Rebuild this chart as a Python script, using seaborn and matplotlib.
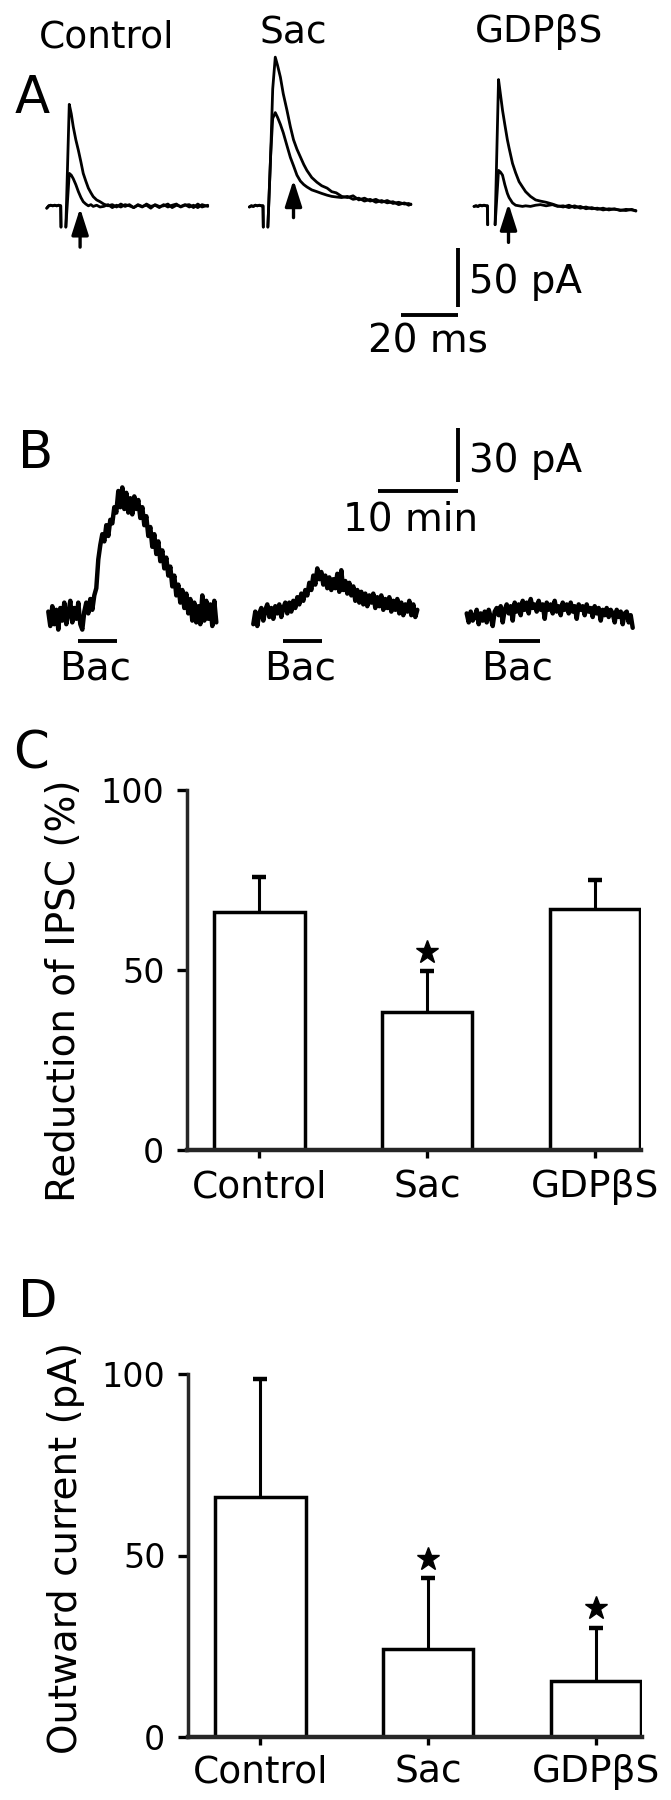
import numpy as np
import pandas as pd
import seaborn as sns
import matplotlib.pyplot as plt

nan = np.nan
GROUPS = ["Control", "Sac", "GDPβS"]

# ---- A: evoked IPSCs, time in ms after the stimulus, current in pA ----
CTRL_A_T = [-5.0, -4.3, -3.6, -2.9, -2.2, -1.5, -0.8, -0.1, 0.0, nan,
            1.7, 2.9, 3.6, 4.3, 5.2, 6.1, 7.0, 7.8, 8.7, 9.6, 10.5, 11.3, 12.5, 13.7,
            15.0, 16.5, 18.0, 19.5, 21.0, 22.5, 24.0, 25.5, 27.0, 28.5, 30.0, 31.5, 33.0,
            34.5, 36.0, 37.5, 39.0, 40.5, 42.0, 43.5, 45.0, 46.5, 48.0, 49.5, 51.5]
CTRL_A_BIG = [-1.0, 1.0, 1.5, 1.0, 1.5, 1.0, 1.5, 1.0, -17.0, nan,
              -17.0, 87.0, 79.0, 68.0, 57.0, 48.0, 38.0, 28.5, 22.0, 16.0, 12.0, 8.8, 6.0, 4.5,
              2.5, 1.0, 2.0, 0.0, 2.5, 0.5, 2.0, -0.5, 1.5, 0.0, 2.5, 0.5, 1.5,
              -0.5, 2.0, 0.0, 1.5, 2.5, 0.0, 1.5, 2.0, -0.5, 2.5, 0.0, 1.5]
CTRL_A_SMALL = [-1.0, 1.0, 1.5, 1.0, 1.5, 1.0, 1.5, 1.0, -17.0, nan,
                -17.0, 28.5, 27.0, 24.0, 19.0, 13.0, 8.0, 4.5, 2.5, 1.0, 2.0, 0.5, 1.5, 0.0,
                0.5, 2.0, -0.5, 1.5, 0.0, 2.0, 1.0, -0.5, 2.0, 0.5, 1.5, -1.0, 2.0,
                0.5, 1.0, 2.5, -0.5, 1.5, 0.5, 2.0, 0.0, 1.5, -0.5, 2.0, 0.5]

SAC_A_T = [-4.9, -4.2, -3.5, -2.8, -2.1, -1.4, -0.7, -0.1, 0.0, nan,
           1.6, 2.6, 3.3, 4.2, 5.0, 6.0, 7.0, 8.3, 9.5, 10.6, 11.8, 13.0, 14.2, 15.3,
           17.0, 18.8, 20.5, 22.4, 24.0, 25.6,
           27.5, 29.5, 31.5, 33.5, 35.5, 37.5, 39.5, 41.5, 43.5, 45.5, 47.5, 49.5, 51.0, 51.8]
SAC_A_BIG = [0.0, 1.0, 0.5, 1.5, 1.0, 1.5, 1.0, 1.0, -17.0, nan,
             -17.0, 45.0, 100.0, 127.0, 120.0, 110.0, 96.0, 82.0, 68.0, 57.0, 49.0, 42.5, 36.0, 31.0,
             25.0, 21.0, 18.0, 16.0, 13.0, 12.0,
             9.0, 8.0, 9.5, 6.0, 7.5, 5.0, 6.5, 4.0, 5.5, 3.0, 4.0, 2.5, 3.0, 2.0]
SAC_A_SMALL = [0.0, 1.0, 0.5, 1.5, 1.0, 1.5, 1.0, 1.0, -17.0, nan,
               -17.0, 45.0, 75.0, 80.0, 76.0, 70.0, 63.0, 52.0, 42.0, 35.0, 27.0, 22.0, 19.0, 17.0,
               14.5, 13.0, 11.5, 10.0, 9.0, 8.5,
               8.0, 9.0, 6.5, 7.5, 5.0, 6.5, 4.0, 5.5, 3.5, 4.5, 2.0, 3.5, 1.5, 2.5]

GDP_A_T = [-4.8, -4.1, -3.4, -2.7, -2.0, -1.3, -0.6, -0.1, 0.0, nan,
           2.6, 3.8, 4.5, 5.2, 6.0, 6.9, 7.5, 8.7, 9.8, 11.0, 12.2, 13.3,
           15.0, 16.8, 18.5, 20.5, 22.7,
           24.5, 26.5, 28.5, 30.5, 32.5, 34.5, 36.5, 38.5, 40.5, 42.5, 44.5, 46.5, 48.5, 50.5, 52.0]
GDP_A_BIG = [0.5, 1.0, 0.5, 1.5, 1.0, 1.5, 1.0, 1.0, -15.0, nan,
             -15.0, 108.0, 95.0, 82.0, 70.0, 57.0, 50.0, 37.0, 29.0, 21.5, 17.0, 13.0,
             9.0, 6.0, 5.0, 4.0, 2.5,
             1.0, 0.0, 1.5, -0.5, 0.5, -1.5, -0.5, -2.0, -1.0, -2.5, -1.5, -3.0, -2.0, -2.5, -3.0]
GDP_A_SMALL = [0.5, 1.0, 0.5, 1.5, 1.0, 1.5, 1.0, 1.0, -15.0, nan,
               -15.0, 31.0, 29.5, 27.0, 19.0, 11.5, 8.0, 3.5, 1.5, 1.0, 0.5, 1.0,
               0.5, 1.5, 2.0, 1.0, 2.0,
               0.5, 1.0, -0.5, 1.0, -1.0, 0.0, -1.5, -1.0, -2.5, -1.5, -2.0, -2.5, -3.0, -2.0, -3.5]

# arrows under the traces (ms, pA)
ARROW_T = [6.7, 10.6, 7.3]
ARROW_TAIL = [-34.0, -9.0, -30.0]
ARROW_HEAD = [-1.0, 23.0, 3.0]

# ---- B: baclofen outward currents, sampled every 0.25 min, pA ----
B_DT_MIN = 0.25
CTRL_B = [3, -5, 6, -4, 4, -7, 5, -2, 8, -4,
          2, 9, -3, 5, -1, 8, -4, -7, 3, 8,
          2, 10, 4, 12, 16, 32, 40, 46, 42, 51,
          45, 54, 52, 61, 58, 70, 61, 72, 60, 69,
          58, 66, 57, 67, 60, 65, 55, 61, 51, 56,
          45, 50, 39, 46, 35, 42, 31, 37, 27, 33,
          23, 28, 17, 23, 12, 18, 8, 15, 5, 13,
          2, 10, -2, 8, -3, 6, -4, 12, -2, 9,
          -1, 7, -5, 9, -3]
SAC_B = [-4, 3, -5, 2, 5, -2, 4, 7, 0, 5,
         -1, 6, 2, 7, 0, 5, 8, 2, 8, 3,
         9, 5, 11, 7, 13, 9, 15, 12, 19, 15,
         23, 18, 27, 21, 25, 18, 23, 16, 22, 15,
         21, 16, 24, 14, 26, 15, 20, 13, 19, 12,
         17, 9, 15, 8, 14, 7, 13, 6, 12, 8,
         13, 5, 11, 6, 12, 4, 10, 5, 11, 3,
         9, 4, 10, 2, 8, 1, 7, 3, 9, 1,
         7, 0, 4]
GDP_B = [2, -3, 3, -2, 0, 4, -4, 2, -2, 3,
         -3, 4, 0, -5, 3, 5, 1, 6, -3, 4,
         7, 2, 6, -2, 8, 3, 7, 1, 9, 4,
         8, 2, 10, 5, 7, 3, 9, 4, 7, -1,
         8, 4, 7, 2, 9, 3, 6, 1, 8, 4,
         7, 2, 8, 3, 6, -1, 7, 4, 6, 1,
         7, 3, 5, 0, 6, 2, 5, -2, 4, 1,
         5, 0, 4, 2, -3, 4, 0, 3, -4, 2,
         3, -3, 1, -6]
BAC_ON = [3.75, 3.75, 4.0]
BAC_OFF = [8.6, 8.6, 9.1]

# ---- C / D: summary bars ----
IPSC_REDUCTION = [66.0, 38.2, 67.0]
IPSC_SEM = [9.8, 11.4, 8.0]
C_STAR_GROUPS = ["Sac"]
C_STAR_Y = [55.0]

OUTWARD = [66.0, 24.2, 15.3]
OUTWARD_SEM = [32.7, 19.5, 14.7]
D_STAR_GROUPS = ["Sac", "GDPβS"]
D_STAR_Y = [49.0, 35.5]

SCALE_A = (20, 50)   # ms, pA
SCALE_B = (10, 30)   # min, pA

W, H = 671, 1800


def px_axes(fig, left, top, right, bottom):
    return fig.add_axes([left / W, 1 - bottom / H, (right - left) / W, (bottom - top) / H])


def fig_text(fig, x, y, s, **kw):
    fig.text(x / W, 1 - y / H, s, **kw)


sns.set_style("ticks")
plt.rcParams["font.family"] = ["DejaVu Sans"]
plt.rcParams["text.color"] = "black"

fig = plt.figure(figsize=(W / 100, H / 100), dpi=100)

# ---------- panel A ----------
A_MS_PX, A_PA_PX, A_BASE = 2.85, 1.18, 207.0
A_XLIM, A_YLIM = (-6, 53), (-40, 135)
a_traces = [(CTRL_A_T, CTRL_A_BIG, CTRL_A_SMALL),
            (SAC_A_T, SAC_A_BIG, SAC_A_SMALL),
            (GDP_A_T, GDP_A_BIG, GDP_A_SMALL)]
a_t0_px = [61.0, 263.3, 487.7]
for i, (t, big, small) in enumerate(a_traces):
    x0 = a_t0_px[i]
    ax = px_axes(fig, x0 + A_XLIM[0] * A_MS_PX, A_BASE - A_YLIM[1] * A_PA_PX,
                 x0 + A_XLIM[1] * A_MS_PX, A_BASE - A_YLIM[0] * A_PA_PX)
    ax.plot(t, big, color="black", lw=2.0)
    ax.plot(t, small, color="black", lw=2.0)
    ax.annotate("", xy=(ARROW_T[i], ARROW_HEAD[i]), xytext=(ARROW_T[i], ARROW_TAIL[i]),
                arrowprops=dict(arrowstyle="-|>,head_length=1.0,head_width=0.32",
                                mutation_scale=16, lw=2.4, color="black",
                                shrinkA=0, shrinkB=0))
    ax.set_xlim(*A_XLIM)
    ax.set_ylim(*A_YLIM)
    ax.set_axis_off()

sb = px_axes(fig, 401, 315 - 60 * A_PA_PX, 458, 315)
sb.plot([0, SCALE_A[0]], [0, 0], color="black", lw=2.8, solid_capstyle="butt",
        clip_on=False)
sb.plot([SCALE_A[0], SCALE_A[0]], [6.8, 6.8 + SCALE_A[1]], color="black", lw=2.8,
        solid_capstyle="butt", clip_on=False)
sb.text(23.9, 18.6, f"{SCALE_A[1]} pA", ha="left", va="baseline", fontsize=28)
sb.text(9.5, -31.4, f"{SCALE_A[0]} ms", ha="center", va="baseline", fontsize=28)
sb.set_xlim(0, 20)
sb.set_ylim(0, 60)
sb.set_axis_off()

# ---------- panel B ----------
B_MIN_PX, B_PA_PX, B_BASE = 8.0, 1.8, 617.0
B_XLIM, B_YLIM = (-0.5, 21.5), (-40, 75)
b_traces = [CTRL_B, SAC_B, GDP_B]
b_t0_px = [48.3, 253.3, 466.7]
for i, vals in enumerate(b_traces):
    x0 = b_t0_px[i]
    ax = px_axes(fig, x0 + B_XLIM[0] * B_MIN_PX, B_BASE - B_YLIM[1] * B_PA_PX,
                 x0 + B_XLIM[1] * B_MIN_PX, B_BASE - B_YLIM[0] * B_PA_PX)
    t = np.arange(len(vals)) * B_DT_MIN
    ax.plot(t, vals, color="black", lw=3.2)
    ax.plot([BAC_ON[i], BAC_OFF[i]], [-13.3, -13.3], color="black", lw=2.8,
            solid_capstyle="butt")
    ax.text((BAC_ON[i] + BAC_OFF[i]) / 2 - 0.3, -35, "Bac", ha="center", va="baseline",
            fontsize=28)
    ax.set_xlim(*B_XLIM)
    ax.set_ylim(*B_YLIM)
    ax.set_axis_off()

sbb = px_axes(fig, 378, 491 - 40 * B_PA_PX, 458, 491)
sbb.plot([0, SCALE_B[0]], [0, 0], color="black", lw=2.8, solid_capstyle="butt",
         clip_on=False)
sbb.plot([SCALE_B[0], SCALE_B[0]], [5, 5 + SCALE_B[1]], color="black", lw=2.8,
         solid_capstyle="butt", clip_on=False)
sbb.text(11.4, 10.6, f"{SCALE_B[1]} pA", ha="left", va="baseline", fontsize=28)
sbb.text(4.06, -21.7, f"{SCALE_B[0]} min", ha="center", va="baseline", fontsize=28)
sbb.set_xlim(0, 10)
sbb.set_ylim(0, 40)
sbb.set_axis_off()


# ---------- panels C and D ----------
def bar_panel(ax, means, sems, star_groups, star_y, xpad):
    df = pd.DataFrame({"group": GROUPS, "value": means})
    sns.barplot(data=df, x="group", y="value", order=GROUPS, color="white",
                edgecolor="black", linewidth=2.5, width=0.54, errorbar=None, ax=ax)
    xpos = np.arange(len(GROUPS))
    tops = np.array(means) + np.array(sems)
    # upward-only SEM: stem from the bar top plus a cap at the end
    ax.vlines(xpos, means, tops, color="black", lw=2.2, zorder=3)
    ax.plot(xpos, tops, ls="none", marker="_", ms=10, mew=3.2, color="black", zorder=3)
    xs = [GROUPS.index(g) for g in star_groups]
    ax.plot(xs, star_y, marker="*", ms=17, color="black", ls="none", clip_on=False)
    ax.set_xlim(-0.43, 2.274)
    ax.set_ylim(0, 100)
    ax.set_yticks([0, 50, 100])
    ax.set_xlabel("")
    ax.set_ylabel("")
    sns.despine(ax=ax)
    ax.spines["left"].set_linewidth(2.5)
    ax.spines["bottom"].set_linewidth(3.2)
    ax.tick_params(axis="y", direction="out", length=7.2, width=2.4, labelsize=24, pad=9,
                   colors="black")
    ax.tick_params(axis="x", direction="out", length=5.8, width=2.4, labelsize=27, pad=xpad,
                   colors="black")


axc = px_axes(fig, 187, 790, 641, 1150)
bar_panel(axc, IPSC_REDUCTION, IPSC_SEM, C_STAR_GROUPS, C_STAR_Y, xpad=8)
axd = px_axes(fig, 188, 1374, 642, 1737)
bar_panel(axd, OUTWARD, OUTWARD_SEM, D_STAR_GROUPS, D_STAR_Y, xpad=6.5)

fig_text(fig, 64, 991, "Reduction of IPSC (%)", rotation=90, ha="center", va="center",
         fontsize=28)
fig_text(fig, 66, 1548, "Outward current (pA)", rotation=90, ha="center", va="center",
         fontsize=28)

# titles and panel letters
fig_text(fig, 107, 47, "Control", ha="center", va="baseline", fontsize=27)
fig_text(fig, 293, 43, "Sac", ha="center", va="baseline", fontsize=27)
fig_text(fig, 539, 42, "GDPβS", ha="center", va="baseline", fontsize=27)
for letter, x, y in [("A", 15, 113), ("B", 18, 468), ("C", 13, 768), ("D", 18, 1317)]:
    fig_text(fig, x, y, letter, ha="left", va="baseline", fontsize=37)

fig.savefig("out.png", dpi=100, facecolor="white")
